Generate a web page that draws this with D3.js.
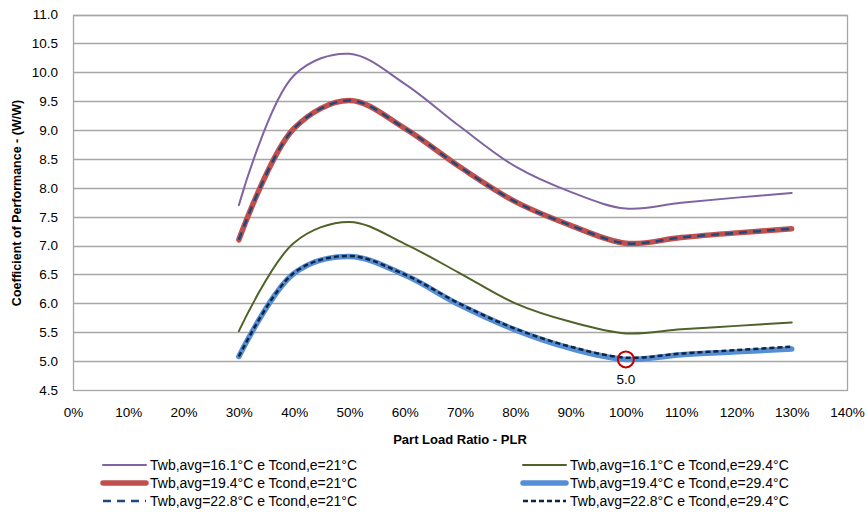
<!DOCTYPE html>
<html>
<head>
<meta charset="utf-8">
<script src="https://cdn.jsdelivr.net/npm/d3@7"></script>
<style>
  body { margin: 0; background: #fff; }
  text { font-family: "Liberation Sans", Arial, sans-serif; fill: #000; }
</style>
</head>
<body>
<svg id="chart" width="867" height="512"></svg>
<script>
// part load ratio (%)
const plr = [30, 40, 50, 60, 70, 80, 90, 100, 110, 120, 130]

const cop_161_21 = [7.70, 9.95, 10.32, 9.80, 9.06, 8.37, 7.93, 7.64, 7.74, 7.83, 7.91]
const cop_194_21 = [7.10, 9.03, 9.51, 9.03, 8.36, 7.76, 7.35, 7.04, 7.14, 7.22, 7.29]
const cop_228_21 = [7.10, 9.03, 9.51, 9.03, 8.36, 7.76, 7.35, 7.04, 7.14, 7.22, 7.29]
const cop_161_294 = [5.52, 7.05, 7.41, 7.03, 6.52, 6.00, 5.68, 5.48, 5.55, 5.61, 5.67]
const cop_194_294 = [5.08, 6.52, 6.81, 6.49, 5.97, 5.54, 5.22, 5.03, 5.11, 5.16, 5.21]
const cop_228_294 = [5.08, 6.53, 6.82, 6.50, 5.99, 5.56, 5.25, 5.06, 5.13, 5.19, 5.25]

const xTicks = [0, 10, 20, 30, 40, 50, 60, 70, 80, 90, 100, 110, 120, 130, 140]
const yTicks = [4.5, 5.0, 5.5, 6.0, 6.5, 7.0, 7.5, 8.0, 8.5, 9.0, 9.5, 10.0, 10.5, 11.0]

const series = [
    { name: 'Twb,avg=16.1°C e Tcond,e=21°C', values: cop_161_21, color: '#8064A2', width: 2, dash: null },
    { name: 'Twb,avg=16.1°C e Tcond,e=29.4°C', values: cop_161_294, color: '#4F6228', width: 2, dash: null },
    { name: 'Twb,avg=19.4°C e Tcond,e=21°C', values: cop_194_21, color: '#C0504D', width: 5.5, dash: null },
    { name: 'Twb,avg=19.4°C e Tcond,e=29.4°C', values: cop_194_294, color: '#558ED5', width: 5.5, dash: null },
    { name: 'Twb,avg=22.8°C e Tcond,e=21°C', values: cop_228_21, color: '#1F497D', width: 2.5, dash: '8,6' },
    { name: 'Twb,avg=22.8°C e Tcond,e=29.4°C', values: cop_228_294, color: '#0F243E', width: 2.5, dash: '5,3' }
]

const svg = d3.select('#chart')
const plot = { left: 73, right: 847, top: 14.5, bottom: 390 }

const x = d3.scaleLinear().domain([0, 140]).range([plot.left, plot.right])
const y = d3.scaleLinear().domain([4.5, 11]).range([plot.bottom, plot.top])

// grid
svg.append('g')
    .selectAll('line')
    .data(yTicks.slice(1))
    .join('line')
    .attr('x1', plot.left)
    .attr('x2', plot.right)
    .attr('y1', d => Math.round(y(d)) + 0.5)
    .attr('y2', d => Math.round(y(d)) + 0.5)
    .style('stroke', '#A6A6A6')
    .style('stroke-width', 1.3)

// frame
svg.append('rect')
    .attr('x', plot.left + 0.5)
    .attr('y', Math.round(plot.top) + 0.5)
    .attr('width', plot.right - plot.left)
    .attr('height', Math.round(plot.bottom) - Math.round(plot.top))
    .style('fill', 'none')
    .style('stroke', '#A6A6A6')
    .style('stroke-width', 1.3)

// y tick labels
const yAxis = d3.axisLeft(y).tickValues(yTicks).tickFormat(d3.format('.1f')).tickSize(0).tickPadding(15)
svg.append('g')
    .attr('transform', `translate(${plot.left},0)`)
    .call(yAxis)
    .call(g => g.select('.domain').remove())
    .selectAll('text')
    .style('font-size', '13.5px')
    .style('font-family', '"Liberation Sans", Arial, sans-serif')

// x tick labels
const xAxis = d3.axisBottom(x).tickValues(xTicks).tickFormat(d => d + '%').tickSize(0).tickPadding(17)
svg.append('g')
    .attr('transform', `translate(0,${plot.bottom})`)
    .call(xAxis)
    .call(g => g.select('.domain').remove())
    .selectAll('text')
    .style('font-size', '13.5px')
    .style('font-family', '"Liberation Sans", Arial, sans-serif')

// axis titles
svg.append('text')
    .attr('x', 460)
    .attr('y', 444)
    .attr('text-anchor', 'middle')
    .style('font-size', '13px')
    .style('font-weight', 'bold')
    .text('Part Load Ratio - PLR')

svg.append('text')
    .attr('transform', 'translate(21,203) rotate(-90)')
    .attr('text-anchor', 'middle')
    .style('font-size', '12.5px')
    .style('font-weight', 'bold')
    .text('Coefficient of Performance - (W/W)')

// lines
const line = d3.line()
    .x((d, i) => x(plr[i]))
    .y(d => y(d))
    .curve(d3.curveCatmullRom.alpha(0.5))

const drawOrder = [0, 2, 4, 1, 3, 5]
svg.append('g')
    .selectAll('path')
    .data(drawOrder.map(i => series[i]))
    .join('path')
    .attr('d', d => line(d.values))
    .style('fill', 'none')
    .style('stroke', d => d.color)
    .style('stroke-width', d => d.width)
    .style('stroke-linecap', d => d.dash ? 'butt' : 'round')
    .style('stroke-dasharray', d => d.dash)

// highlighted point
const markIdx = plr.indexOf(100)
svg.append('circle')
    .attr('cx', x(100))
    .attr('cy', y(cop_194_294[markIdx]))
    .attr('r', 8)
    .style('fill', 'none')
    .style('stroke', '#C00000')
    .style('stroke-width', 2)

svg.append('text')
    .attr('x', x(100))
    .attr('y', y(cop_194_294[markIdx]) + 25)
    .attr('text-anchor', 'middle')
    .style('font-size', '13.5px')
    .text(d3.format('.1f')(cop_194_294[markIdx]))

// legend
const legend = svg.append('g')
series.forEach((s, i) => {
    const col = i % 2
    const row = Math.floor(i / 2)
    const lx = col == 0 ? 103 : 523
    const ly = 465 + row * 18
    legend.append('line')
        .attr('x1', lx)
        .attr('x2', lx + 43)
        .attr('y1', ly)
        .attr('y2', ly)
        .style('stroke', s.color)
        .style('stroke-width', s.width)
        .style('stroke-linecap', s.dash ? 'butt' : 'round')
        .style('stroke-dasharray', s.dash)
    legend.append('text')
        .attr('x', lx + 47)
        .attr('y', ly + 5)
        .style('font-size', '14px')
        .text(s.name)
})
</script>
</body>
</html>
